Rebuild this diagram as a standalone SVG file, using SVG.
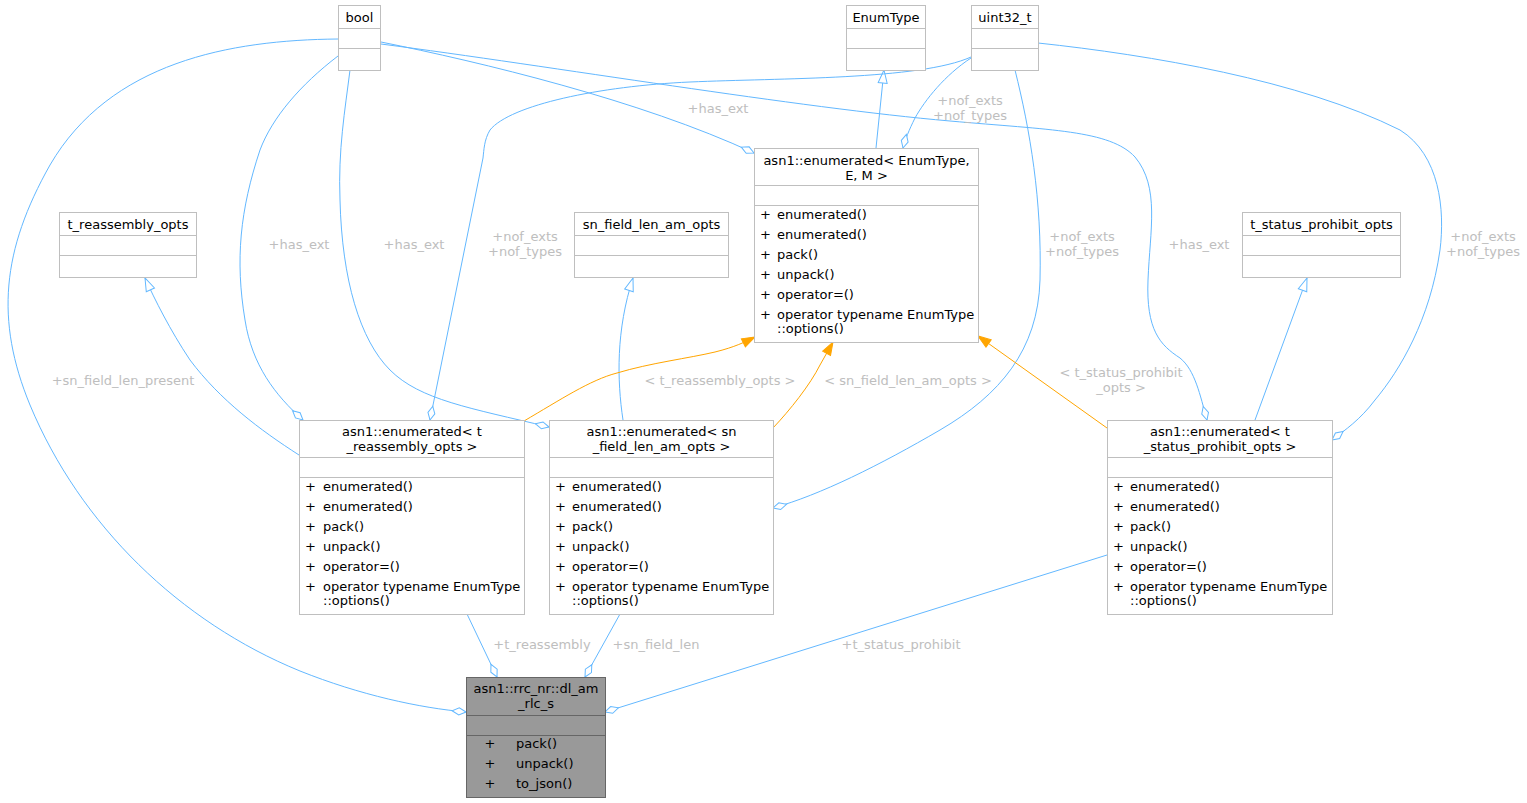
<svg xmlns="http://www.w3.org/2000/svg" width="1527" height="803" viewBox="0 0 1527 803">
<style>
text{font-family:"DejaVu Sans","Liberation Sans",sans-serif;font-size:13px;fill:#000}
.box{fill:#fff;stroke:#bfbfbf;stroke-width:1}
.main{fill:#999;stroke:#666;stroke-width:1}
.div{stroke:#bfbfbf;stroke-width:1}
.maindiv{stroke:#666;stroke-width:1}
.c{text-anchor:middle}
.e{fill:none;stroke:#63b8ff;stroke-width:1}
.o{fill:none;stroke:#ffa500;stroke-width:1}
.lbl{fill:#bebebe;text-anchor:middle}
</style>
<defs>
<marker id="dia" markerUnits="userSpaceOnUse" markerWidth="16" markerHeight="10" viewBox="-15 -5 16 10" refX="0" refY="0" orient="auto">
<path d="M0,0 L-7,-3.5 L-14,0 L-7,3.5 Z" fill="#fff" stroke="#63b8ff" stroke-width="1"/>
</marker>
<marker id="tri" markerUnits="userSpaceOnUse" markerWidth="16" markerHeight="12" viewBox="-15 -6 16 12" refX="0" refY="0" orient="auto">
<path d="M0,0 L-13,-4.5 L-13,4.5 Z" fill="#fff" stroke="#63b8ff" stroke-width="1"/>
</marker>
<marker id="otri" markerUnits="userSpaceOnUse" markerWidth="16" markerHeight="12" viewBox="-15 -6 16 12" refX="0" refY="0" orient="auto">
<path d="M0,0 L-13,-4.5 L-13,4.5 Z" fill="#ffa500" stroke="#ffa500" stroke-width="1"/>
</marker>
</defs>
<rect width="1527" height="803" fill="#fff"/>

<g id="edges">
<path class="e" marker-end="url(#dia)" d="M338,39 C230,40 110,62 50,165 C2,250 -5,320 30,405 C80,525 180,622 300,671 C360,695 420,708 466,712"/>
<path class="e" marker-end="url(#dia)" d="M338,56 C300,85 272,118 260,150 C240,210 235,260 245,320 C252,365 275,395 303,420"/>
<path class="e" marker-end="url(#dia)" d="M350,70 C345,110 338,150 340,200 C342,280 360,340 390,370 C420,400 470,408 549,427"/>
<path class="e" marker-end="url(#dia)" d="M381,42 C480,62 640,100 754,153"/>
<path class="e" marker-end="url(#dia)" d="M381,44 C550,66 800,108 950,121 C1050,130 1110,130 1135,157 C1160,187 1150,230 1148,280 C1146,330 1160,345 1180,358 C1195,370 1200,395 1207,420"/>
<path class="e" marker-end="url(#tri)" d="M876,148 L884,70"/>
<path class="e" marker-end="url(#dia)" d="M971,58 C945,75 925,100 915,118 C909,130 905,140 903,148"/>
<path class="e" marker-end="url(#dia)" d="M971,57 C920,80 780,78 690,82 C600,86 510,105 490,130 C484,140 484,150 483,158 L430,420"/>
<path class="e" marker-end="url(#dia)" d="M1015,70 C1030,130 1042,200 1040,280 C1038,350 1000,395 940,430 C880,465 820,495 773,508"/>
<path class="e" marker-end="url(#dia)" d="M1038,43 C1150,55 1300,80 1400,130 C1440,155 1445,210 1440,250 C1430,320 1400,370 1375,400 C1360,420 1345,430 1332,440"/>
<path class="e" marker-end="url(#tri)" d="M299,455 C260,430 220,400 190,360 C170,330 155,300 145,278"/>
<path class="e" marker-end="url(#tri)" d="M623,420 C617,380 616,330 633,278"/>
<path class="e" marker-end="url(#tri)" d="M1255,420 L1307,278"/>
<path class="o" marker-end="url(#otri)" d="M524,421 C560,400 590,380 617,373 C650,363 690,358 715,352 C735,347 745,342 755,337"/>
<path class="o" marker-end="url(#otri)" d="M773,428 C790,410 810,385 820,365 L833,342"/>
<path class="o" marker-end="url(#otri)" d="M1107,428 L978,336"/>
<path class="e" marker-end="url(#dia)" d="M467,614 L497,677"/>
<path class="e" marker-end="url(#dia)" d="M620,614 L585,677"/>
<path class="e" marker-end="url(#dia)" d="M1107,555 L605,712"/>
<text class="lbl" x="123" y="385">+sn_field_len_present</text>
<text class="lbl" x="299" y="249">+has_ext</text>
<text class="lbl" x="414" y="249">+has_ext</text>
<text class="lbl" x="718" y="113">+has_ext</text>
<text class="lbl" x="1199" y="249">+has_ext</text>
<text class="lbl" x="970" y="105">+nof_exts</text>
<text class="lbl" x="970" y="120">+nof_types</text>
<text class="lbl" x="525" y="241">+nof_exts</text>
<text class="lbl" x="525" y="256">+nof_types</text>
<text class="lbl" x="1082" y="241">+nof_exts</text>
<text class="lbl" x="1082" y="256">+nof_types</text>
<text class="lbl" x="1483" y="241">+nof_exts</text>
<text class="lbl" x="1483" y="256">+nof_types</text>
<text class="lbl" x="720" y="385">&lt; t_reassembly_opts &gt;</text>
<text class="lbl" x="908" y="385">&lt; sn_field_len_am_opts &gt;</text>
<text class="lbl" x="1121" y="377">&lt; t_status_prohibit</text>
<text class="lbl" x="1121" y="392">_opts &gt;</text>
<text class="lbl" x="542" y="649">+t_reassembly</text>
<text class="lbl" x="656" y="649">+sn_field_len</text>
<text class="lbl" x="901" y="649">+t_status_prohibit</text>
</g>

<g id="node-bool">
<rect class="box" x="338.5" y="5.5" width="42" height="65"/>
<line class="div" x1="338.5" y1="28.5" x2="380.5" y2="28.5"/>
<line class="div" x1="338.5" y1="48.5" x2="380.5" y2="48.5"/>
<text class="c" x="359.5" y="22">bool</text>
</g>
<g id="node-EnumType">
<rect class="box" x="846.5" y="5.5" width="79" height="65"/>
<line class="div" x1="846.5" y1="28.5" x2="925.5" y2="28.5"/>
<line class="div" x1="846.5" y1="48.5" x2="925.5" y2="48.5"/>
<text class="c" x="886" y="22">EnumType</text>
</g>
<g id="node-uint32_t">
<rect class="box" x="971.5" y="5.5" width="67" height="65"/>
<line class="div" x1="971.5" y1="28.5" x2="1038.5" y2="28.5"/>
<line class="div" x1="971.5" y1="48.5" x2="1038.5" y2="48.5"/>
<text class="c" x="1005" y="22">uint32_t</text>
</g>
<g id="node-t_reassembly_opts">
<rect class="box" x="59.5" y="212.5" width="137" height="65"/>
<line class="div" x1="59.5" y1="235.5" x2="196.5" y2="235.5"/>
<line class="div" x1="59.5" y1="255.5" x2="196.5" y2="255.5"/>
<text class="c" x="128" y="229">t_reassembly_opts</text>
</g>
<g id="node-sn_field_len_am_opts">
<rect class="box" x="574.5" y="212.5" width="154" height="65"/>
<line class="div" x1="574.5" y1="235.5" x2="728.5" y2="235.5"/>
<line class="div" x1="574.5" y1="255.5" x2="728.5" y2="255.5"/>
<text class="c" x="651.5" y="229">sn_field_len_am_opts</text>
</g>
<g id="node-t_status_prohibit_opts">
<rect class="box" x="1242.5" y="212.5" width="158" height="65"/>
<line class="div" x1="1242.5" y1="235.5" x2="1400.5" y2="235.5"/>
<line class="div" x1="1242.5" y1="255.5" x2="1400.5" y2="255.5"/>
<text class="c" x="1321.5" y="229">t_status_prohibit_opts</text>
</g>

<g id="node-enumerated-EnumType">
<rect class="box" x="754.5" y="148.5" width="224" height="194"/>
<line class="div" x1="754.5" y1="185.5" x2="978.5" y2="185.5"/>
<line class="div" x1="754.5" y1="205.5" x2="978.5" y2="205.5"/>
<text class="c" x="866.5" y="165">asn1::enumerated&lt; EnumType,</text>
<text class="c" x="866.5" y="180">E, M &gt;</text>
<text x="760" y="219">+</text><text x="777" y="219">enumerated()</text>
<text x="760" y="239">+</text><text x="777" y="239">enumerated()</text>
<text x="760" y="259">+</text><text x="777" y="259">pack()</text>
<text x="760" y="279">+</text><text x="777" y="279">unpack()</text>
<text x="760" y="299">+</text><text x="777" y="299">operator=()</text>
<text x="760" y="319">+</text><text x="777" y="319">operator typename EnumType</text>
<text x="777" y="333">::options()</text>
</g>

<g id="node-enumerated-t_reassembly">
<rect class="box" x="299.5" y="420.5" width="225" height="194"/>
<line class="div" x1="299.5" y1="457.5" x2="524.5" y2="457.5"/>
<line class="div" x1="299.5" y1="477.5" x2="524.5" y2="477.5"/>
<text class="c" x="412" y="436">asn1::enumerated&lt; t</text>
<text class="c" x="412" y="451">_reassembly_opts &gt;</text>
<text x="305" y="491">+</text><text x="323" y="491">enumerated()</text>
<text x="305" y="511">+</text><text x="323" y="511">enumerated()</text>
<text x="305" y="531">+</text><text x="323" y="531">pack()</text>
<text x="305" y="551">+</text><text x="323" y="551">unpack()</text>
<text x="305" y="571">+</text><text x="323" y="571">operator=()</text>
<text x="305" y="591">+</text><text x="323" y="591">operator typename EnumType</text>
<text x="323" y="605">::options()</text>
</g>

<g id="node-enumerated-sn_field_len_am">
<rect class="box" x="549.5" y="420.5" width="224" height="194"/>
<line class="div" x1="549.5" y1="457.5" x2="773.5" y2="457.5"/>
<line class="div" x1="549.5" y1="477.5" x2="773.5" y2="477.5"/>
<text class="c" x="661.5" y="436">asn1::enumerated&lt; sn</text>
<text class="c" x="661.5" y="451">_field_len_am_opts &gt;</text>
<text x="555" y="491">+</text><text x="572" y="491">enumerated()</text>
<text x="555" y="511">+</text><text x="572" y="511">enumerated()</text>
<text x="555" y="531">+</text><text x="572" y="531">pack()</text>
<text x="555" y="551">+</text><text x="572" y="551">unpack()</text>
<text x="555" y="571">+</text><text x="572" y="571">operator=()</text>
<text x="555" y="591">+</text><text x="572" y="591">operator typename EnumType</text>
<text x="572" y="605">::options()</text>
</g>

<g id="node-enumerated-t_status_prohibit">
<rect class="box" x="1107.5" y="420.5" width="225" height="194"/>
<line class="div" x1="1107.5" y1="457.5" x2="1332.5" y2="457.5"/>
<line class="div" x1="1107.5" y1="477.5" x2="1332.5" y2="477.5"/>
<text class="c" x="1220" y="436">asn1::enumerated&lt; t</text>
<text class="c" x="1220" y="451">_status_prohibit_opts &gt;</text>
<text x="1113" y="491">+</text><text x="1130" y="491">enumerated()</text>
<text x="1113" y="511">+</text><text x="1130" y="511">enumerated()</text>
<text x="1113" y="531">+</text><text x="1130" y="531">pack()</text>
<text x="1113" y="551">+</text><text x="1130" y="551">unpack()</text>
<text x="1113" y="571">+</text><text x="1130" y="571">operator=()</text>
<text x="1113" y="591">+</text><text x="1130" y="591">operator typename EnumType</text>
<text x="1130" y="605">::options()</text>
</g>

<g id="node-dl_am_rlc_s">
<rect class="main" x="466.5" y="677.5" width="139" height="120"/>
<line class="maindiv" x1="466.5" y1="715.5" x2="605.5" y2="715.5"/>
<line class="maindiv" x1="466.5" y1="735.5" x2="605.5" y2="735.5"/>
<text class="c" x="536" y="693">asn1::rrc_nr::dl_am</text>
<text class="c" x="536" y="708">_rlc_s</text>
<text class="c" x="490" y="748">+</text><text x="516" y="748">pack()</text>
<text class="c" x="490" y="768">+</text><text x="516" y="768">unpack()</text>
<text class="c" x="490" y="788">+</text><text x="516" y="788">to_json()</text>
</g>
</svg>
